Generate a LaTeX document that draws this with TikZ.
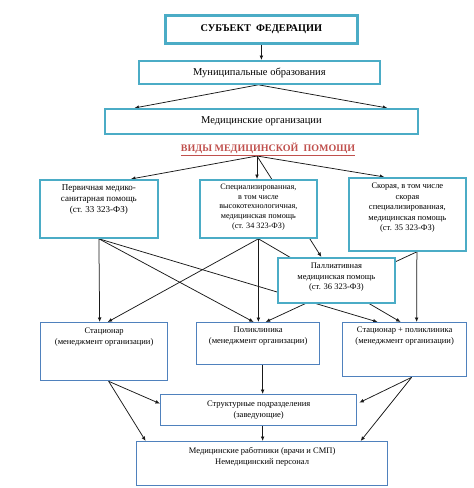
\documentclass[tikz,border=0pt]{standalone}
\usepackage{fontspec}
\setmainfont{Liberation Serif}
\usetikzlibrary{arrows.meta,backgrounds,calc}
\definecolor{tealc}{HTML}{4BACC6}
\definecolor{bluec}{HTML}{4F81BD}
\definecolor{redc}{HTML}{C0504D}
\begin{document}
\begin{tikzpicture}[x=1pt,y=-1pt,
  tbox/.style={draw=tealc, line width=1.8pt, fill=white, inner sep=0, anchor=north west},
  bbox/.style={draw=bluec, line width=1.3pt, fill=white, inner sep=0, anchor=north west},
  txt/.style={align=center, inner sep=0, anchor=north, font=\fontsize{9}{11}\selectfont},
  arr/.style={-{Latex[length=4.5pt,width=3.8pt]}, line width=0.75pt, black!90},
  ln/.style={line width=0.75pt, black!90}]
\useasboundingbox (0,0) rectangle (474,488);
% top boxes
\node[tbox, line width=2.8pt, minimum width=192pt, minimum height=28pt] (subj) at (164,14) {};
\node[font=\fontsize{10.3}{12}\selectfont\bfseries] (subjT) at (subj.center) {СУБЪЕКТ\ \ ФЕДЕРАЦИИ};
\node[tbox, minimum width=241pt, minimum height=23pt] (mun) at (138,60) {};
\node[font=\fontsize{10.5}{12}\selectfont] (munT) at (mun.center) {Муниципальные образования};
\node[tbox, minimum width=313pt, minimum height=25pt] (med) at (104,108) {};
\node[font=\fontsize{10.5}{12}\selectfont] (medT) at (med.center) {Медицинские организации};
\node[font=\fontsize{10}{12}\selectfont\bfseries, text=redc, inner sep=0] (title) at (268,149) {\underline{ВИДЫ МЕДИЦИНСКОЙ\ \ ПОМОЩИ}};
\coordinate (ts) at (257,156);
% row 2
\node[tbox, minimum width=118pt, minimum height=58pt] (prim) at (39,179) {};
\node[txt, yshift=-5pt] (primT) at (prim.north) {Первичная медико-\\санитарная помощь\\(ст. 33 323-ФЗ)};
\node[tbox, minimum width=117pt, minimum height=58pt] (spec) at (199,179) {};
\node[txt, yshift=-5pt, font=\fontsize{8.2}{9.6}\selectfont] (specT) at (spec.north) {Специализированная,\\в том числе\\высокотехнологичная,\\медицинская помощь\\(ст. 34 323-ФЗ)};
\node[tbox, minimum width=117pt, minimum height=73pt] (emer) at (348,177) {};
\node[txt, yshift=-6pt, font=\fontsize{8.5}{10.5}\selectfont] (emerT) at (emer.north) {Скорая, в том числе\\скорая\\специализированная,\\медицинская помощь\\(ст. 35 323-ФЗ)};
\node[tbox, minimum width=117pt, minimum height=45pt] (pall) at (277,257) {};
\node[txt, yshift=-6pt, font=\fontsize{8.5}{10.5}\selectfont] (pallT) at (pall.north) {Паллиативная\\медицинская помощь\\(ст. 36 323-ФЗ)};
% row 3
\node[bbox, minimum width=127pt, minimum height=58pt] (stat) at (40,322) {};
\node[txt, yshift=-6pt, font=\fontsize{8.5}{11}\selectfont] (statT) at (stat.north) {Стационар\\(менеджмент организации)};
\node[bbox, minimum width=123pt, minimum height=42pt] (poly) at (196,322) {};
\node[txt, yshift=-5pt, font=\fontsize{8.5}{11}\selectfont] (polyT) at (poly.north) {Поликлиника\\(менеджмент организации)};
\node[bbox, minimum width=124pt, minimum height=54pt] (sp) at (342,322) {};
\node[txt, yshift=-5pt, font=\fontsize{8.5}{11}\selectfont] (spT) at (sp.north) {Стационар + поликлиника\\(менеджмент организации)};
% row 4-5
\node[bbox, minimum width=196pt, minimum height=31pt] (struc) at (160,394) {};
\node[txt, anchor=center, font=\fontsize{8.5}{11}\selectfont] (strucT) at (struc.center) {Структурные подразделения\\(заведующие)};
\node[bbox, minimum width=251pt, minimum height=44pt] (work) at (136,441) {};
\node[txt, yshift=-6pt, font=\fontsize{8.5}{11}\selectfont] (workT) at (work.north) {Медицинские работники (врачи и СМП)\\Немедицинский персонал};
\begin{pgfonlayer}{background}
\draw[arr] (subj.south) -- (subj.south |- mun.north);
\draw[arr] ([xshift=-1pt]mun.south) -- ([xshift=-127pt]med.north);
\draw[arr] ([xshift=-1pt]mun.south) -- ([xshift=126pt]med.north);
\draw[arr] (ts) -- ([xshift=32pt]prim.north);
\draw[arr] (ts) -- (ts |- spec.north);
\draw[arr] (ts) -- ([xshift=-23pt]emer.north);
\draw[arr] (ts) -- ([xshift=-15pt]pall.north);
% row2 -> row3
\draw[arr] (prim.south) -- ([xshift=-4.5pt]stat.north);
\draw[arr] (prim.south) -- ([xshift=-4.5pt]poly.north);
\draw[arr] (prim.south) -- ([xshift=-27pt]sp.north);
\draw[arr] (spec.south) -- ([xshift=3.5pt]stat.north);
\draw[arr] (spec.south) -- (spec.south |- poly.north);
\draw[arr] (spec.south) -- ([xshift=-4pt]sp.north);
\draw[arr] ([xshift=9.5pt]emer.south) -- ([xshift=7.5pt]poly.north);
\draw[arr] ([xshift=9.5pt]emer.south) -- ([xshift=12pt]sp.north);
% row3 -> row4
\draw[arr] ([xshift=4.5pt]stat.south) -- ([yshift=6.5pt]struc.west);
\draw[arr] ([xshift=4.5pt]stat.south) -- ([xshift=-116.5pt]work.north);
\draw[arr] ([xshift=4.5pt]poly.south) -- ([xshift=4pt]struc.north);
\draw[arr] ([xshift=7pt]sp.south) -- ([xshift=2pt,yshift=7.5pt]struc.east);
\draw[arr] ([xshift=7pt]sp.south) -- ([xshift=98.5pt]work.north);
\draw[arr] ([xshift=4pt]struc.south) -- ([xshift=0.5pt]work.north);
\end{pgfonlayer}
\end{tikzpicture}
\end{document}
